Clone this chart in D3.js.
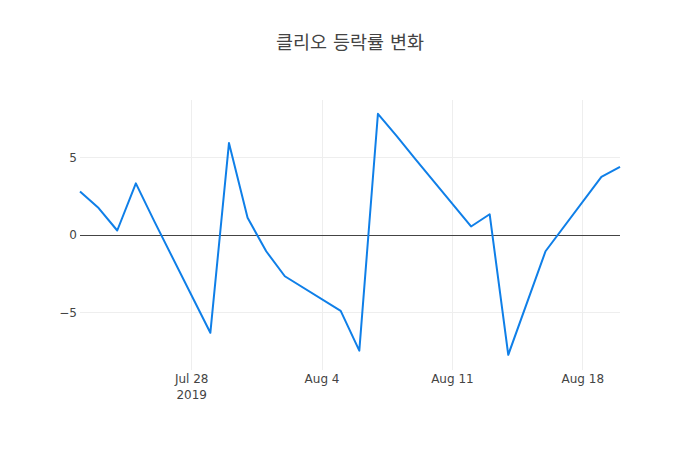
<!DOCTYPE html>
<html><head><meta charset="utf-8">
<script src="https://cdn.jsdelivr.net/npm/d3@7"></script>
<style>body{margin:0;background:#fff}svg{display:block}</style>
</head><body>
<div id="chart"></div>
<script>
const dates = ["2019-07-22","2019-07-23","2019-07-24","2019-07-25","2019-07-26",
  "2019-07-29","2019-07-30","2019-07-31","2019-08-01","2019-08-02",
  "2019-08-05","2019-08-06","2019-08-07","2019-08-08","2019-08-09",
  "2019-08-12","2019-08-13","2019-08-14","2019-08-16",
  "2019-08-19","2019-08-20"];
const changes = [2.82,1.75,0.30,3.34,0.87,
  -6.30,5.94,1.12,-1.04,-2.65,
  -4.89,-7.45,7.83,6.40,4.92,
  0.56,1.35,-7.72,-1.04,
  3.76,4.40];
const yTicks = [-5,0,5];
const xTickDates = ["2019-07-28","2019-08-04","2019-08-11","2019-08-18"];
const xTickLabels = [["Jul 28","2019"],["Aug 4"],["Aug 11"],["Aug 18"]];
const title = "클리오 등락률 변화";

const W=700,H=450,m={l:80,r:80,t:100,b:80};
const parse=d3.timeParse("%Y-%m-%d");
const data=dates.map((d,i)=>({x:parse(d),y:changes[i]}));
const x=d3.scaleTime().domain(d3.extent(data,d=>d.x)).range([m.l,W-m.r]);
const y=d3.scaleLinear().domain([-8.70,8.72]).range([H-m.b,m.t]);
const font="'DejaVu Sans', 'Noto Sans CJK KR', sans-serif";
const svg=d3.select("#chart").append("svg").attr("width",W).attr("height",H);

// gridlines
svg.append("g").attr("shape-rendering","crispEdges").selectAll("line").data(yTicks.filter(t=>t!==0)).join("line")
  .attr("x1",m.l).attr("x2",W-m.r).attr("y1",d=>y(d)).attr("y2",d=>y(d))
  .attr("stroke","#eee").attr("stroke-width",1);
svg.append("g").attr("shape-rendering","crispEdges").selectAll("line").data(xTickDates).join("line")
  .attr("x1",d=>x(parse(d))).attr("x2",d=>x(parse(d))).attr("y1",m.t).attr("y2",H-m.b)
  .attr("stroke","#eee").attr("stroke-width",1);
// zero line
svg.append("line").attr("shape-rendering","crispEdges")
  .attr("x1",m.l).attr("x2",W-m.r).attr("y1",y(0)).attr("y2",y(0))
  .attr("stroke","#444").attr("stroke-width",1);

// y tick labels
svg.append("g").selectAll("text").data(yTicks).join("text")
  .attr("x",m.l-3).attr("y",d=>y(d)).attr("dy","0.35em").attr("text-anchor","end")
  .attr("font-family",font).attr("font-size",12).attr("fill","#444")
  .text(d=>d<0?"\u2212"+Math.abs(d):d);

// x tick labels
const xt=svg.append("g").selectAll("text").data(xTickDates).join("text")
  .attr("x",d=>x(parse(d))).attr("y",H-m.b+13).attr("text-anchor","middle")
  .attr("font-family",font).attr("font-size",12).attr("fill","#444");
xt.each(function(d,i){
  const t=d3.select(this);
  xTickLabels[i].forEach((s,j)=>{
    t.append("tspan").attr("x",x(parse(d))).attr("dy",j===0?0:16).text(s);
  });
});

// line
svg.append("path").datum(data)
  .attr("d",d3.line().x(d=>x(d.x)).y(d=>y(d.y)))
  .attr("fill","none").attr("stroke","#0f7fe8").attr("stroke-width",2)
  .attr("stroke-linejoin","round");

// title
svg.append("text").attr("x",W/2).attr("y",49).attr("text-anchor","middle")
  .attr("font-family",font).attr("font-size",18.5).attr("fill","#444").text(title);
</script>
</body></html>
